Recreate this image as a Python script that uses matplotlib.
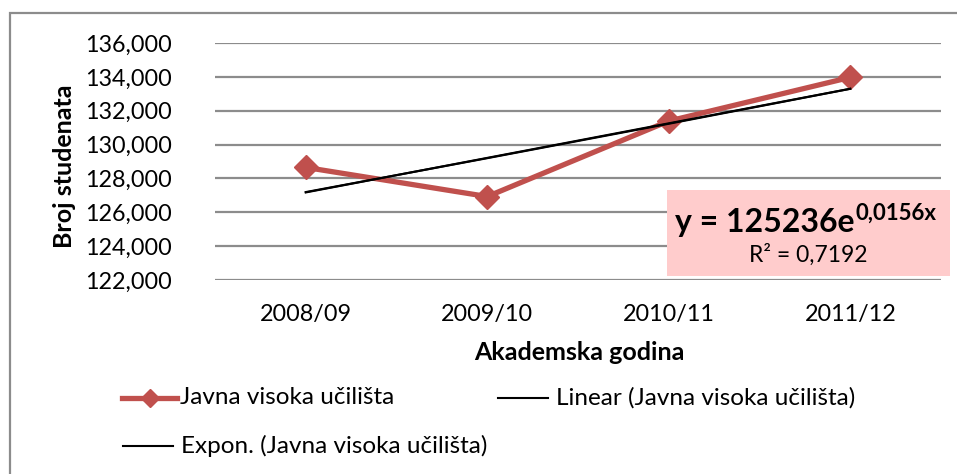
import numpy as np
import matplotlib
matplotlib.use("Agg")
import matplotlib.pyplot as plt
from matplotlib.lines import Line2D
from matplotlib.patches import Rectangle

categories = ["2008/09", "2009/10", "2010/11", "2011/12"]
students = [128650, 126930, 131390, 133970]
y_ticks = [122000, 124000, 126000, 128000, 130000, 132000, 134000, 136000]
series_label = "Javna visoka učilišta"
linear_label = "Linear (Javna visoka učilišta)"
expon_label = "Expon. (Javna visoka učilišta)"
eq_main = "y = 125236e"
eq_exp = "0,0156x"
r2_text = "R² = 0,7192"

FONT = "Lato"
plt.rcParams["font.family"] = [FONT, "DejaVu Sans"]

W, H = 957, 474
fig = plt.figure(figsize=(W / 100, H / 100), dpi=100)

def fx(px):
    return px / W

def fy(py):
    return 1 - py / H

ax = fig.add_axes([fx(215), fy(280), fx(941) - fx(215), fy(43) - fy(280)])

x = np.arange(1, len(students) + 1)
y = np.array(students, dtype=float)

red = "#C0504D"
ax.plot(x, y, color=red, lw=3.8, marker="D", markersize=12.5, zorder=3)

# trend lines computed from the data
lin = np.polyfit(x, y, 1)
ax.plot(x, np.polyval(lin, x), color="black", lw=1.5, zorder=4)
ex = np.polyfit(x, np.log(y), 1)
ax.plot(x, np.exp(np.polyval(ex, x)), color="black", lw=1.5, zorder=4)

ax.set_xlim(0.5, len(students) + 0.5)
ax.set_ylim(y_ticks[0], y_ticks[-1])
ax.set_yticks(y_ticks)
ax.set_yticklabels([f"{v:,}" for v in y_ticks], fontsize=16.8)
ax.set_xticks(x)
ax.set_xticklabels(categories, fontsize=16.8)
ax.tick_params(axis="y", length=0, pad=31)
ax.tick_params(axis="x", length=0, pad=17)
ax.grid(axis="y", color="#8C8C8C", lw=1.6)
ax.set_axisbelow(True)
for s in ax.spines.values():
    s.set_visible(False)

fig.text(fx(64), fy(166), "Broj studenata", rotation=90, ha="center", va="center",
         fontsize=18, fontweight="bold")
fig.text(fx(579), fy(352), "Akademska godina", ha="center", va="center",
         fontsize=18, fontweight="bold")

# outer chart border
fig.patches.append(Rectangle((fx(10), fy(500)), 2, fy(13) - fy(500), transform=fig.transFigure,
                             fill=False, edgecolor="#8C8C8C", lw=1.6, figure=fig))

# trendline label box
fig.patches.append(Rectangle((fx(667), fy(276)), fx(950) - fx(667), fy(190) - fy(276),
                             transform=fig.transFigure, facecolor="#FFCCCC",
                             edgecolor="none", zorder=5, figure=fig))
t_main = fig.text(fx(675), fy(232), eq_main, fontsize=23, fontweight="bold",
                  ha="left", va="baseline", zorder=6)
fig.canvas.draw()
bb = t_main.get_window_extent()
fig.text(bb.x1 / W + 0.001, fy(220), eq_exp, fontsize=16, fontweight="bold",
         ha="left", va="baseline", zorder=6)
fig.text(fx(808), fy(255), r2_text, fontsize=16.5, ha="center", va="center", zorder=6)

# legend
def legend_entry(x0, x1, yy, tx, label, marker=False):
    if marker:
        fig.add_artist(Line2D([fx(x0), fx(x1)], [fy(yy), fy(yy)], transform=fig.transFigure,
                              color=red, lw=3.8))
        fig.add_artist(Line2D([fx((x0 + x1) / 2)], [fy(yy)], transform=fig.transFigure,
                              color=red, marker="D", markersize=9.5, lw=0))
    else:
        fig.add_artist(Line2D([fx(x0), fx(x1)], [fy(yy), fy(yy)], transform=fig.transFigure,
                              color="black", lw=1.5))
    fig.text(fx(tx), fy(yy), label, fontsize=17.5, ha="left", va="center")

legend_entry(122, 177, 398, 180, series_label, marker=True)
legend_entry(498, 548, 398, 556, linear_label)
legend_entry(123, 173, 446, 181, expon_label)

fig.savefig("out.png", dpi=100)
